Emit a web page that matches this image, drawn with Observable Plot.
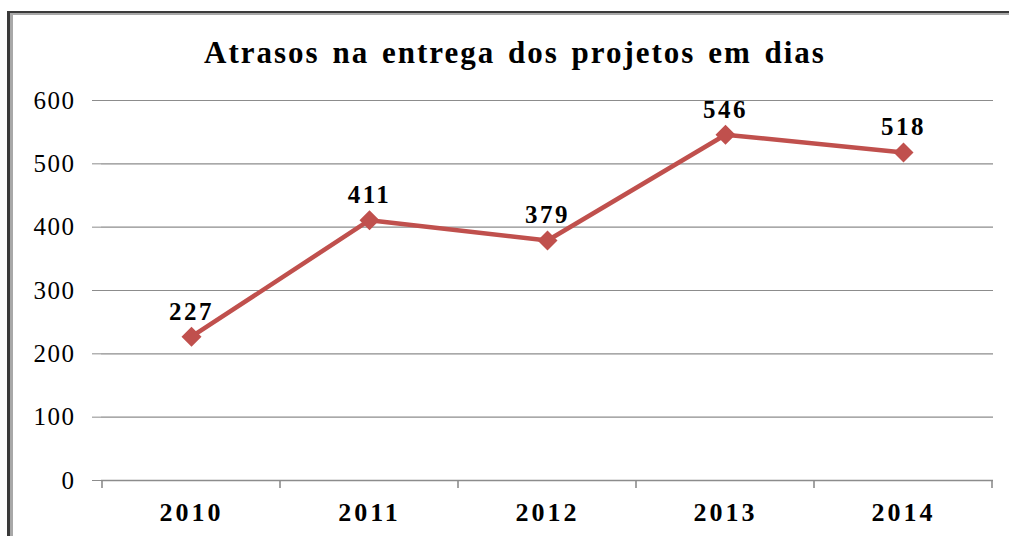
<!DOCTYPE html>
<html>
<head>
<meta charset="utf-8">
<script src="https://cdn.jsdelivr.net/npm/d3@7"></script>
<script src="https://cdn.jsdelivr.net/npm/@observablehq/plot@0.6"></script>
<style>
  html, body { margin: 0; padding: 0; background: #fff; width: 1009px; height: 536px; overflow: hidden; }
  #wrap { position: relative; width: 1009px; height: 536px; }
  #frame { position: absolute; left: 7px; top: 11px; right: -10px; bottom: -10px;
           border-left: 3px solid #3a3a3a; border-top: 2px solid #3a3a3a;
           box-shadow: inset 3px 2px 0 #a8a8a8; }
  #title { position: absolute; left: 0; width: 1030px; top: 35px; text-align: center;
           font-family: "Liberation Serif", "Times New Roman", serif; font-weight: bold;
           font-size: 31px; letter-spacing: 2px; word-spacing: 3px; color: #000; }
  #chart { position: absolute; left: 0; top: 0; }
  #chart svg text { font-family: "Liberation Serif", "Times New Roman", serif; }
</style>
</head>
<body>
<div id="wrap">
  <div id="frame"></div>
  <div id="chart"></div>
  <div id="title">Atrasos na entrega dos projetos em dias</div>
</div>
<script>
const years = ["2010", "2011", "2012", "2013", "2014"];
const delays = [227, 411, 379, 546, 518];
const yTicks = [0, 100, 200, 300, 400, 500, 600];

const data = years.map((y, i) => ({year: y, value: delays[i]}));
const red = "#C0504D";
const serif = "Liberation Serif, Times New Roman, serif";

const plot = Plot.plot({
  width: 1009,
  height: 536,
  marginLeft: 101,
  marginRight: 16,
  marginTop: 100,
  marginBottom: 56,
  style: { fontFamily: serif, background: "transparent", overflow: "visible" },
  x: { type: "band", domain: years, padding: 0, align: 0.5, label: null },
  y: { domain: [0, 600], label: null },
  marks: [
    Plot.gridY(yTicks, { stroke: "#8c8c8c", strokeOpacity: 1, strokeWidth: 1.2 }),
    Plot.ruleY([0], { stroke: "#8c8c8c", strokeWidth: 1.6 }),
    Plot.axisY(yTicks, { tickSize: 9, stroke: "#8c8c8c", tickPadding: 17, fontSize: 25, fontFamily: serif, fill: "#000" }),
    Plot.ruleX([0], { stroke: "#8c8c8c", strokeWidth: 1.6 }),
    Plot.axisX({ tickSize: 0, tickPadding: 22, fontSize: 26, fontWeight: "bold", fontFamily: serif, fill: "#000" }),
    Plot.lineY(data, { x: "year", y: "value", stroke: red, strokeWidth: 4.5 }),
    Plot.dot(data, { x: "year", y: "value", symbol: "square", r: 8, fill: red, rotate: 45 }),
    Plot.text(data, { x: "year", y: "value", text: d => String(d.value), dy: -25, fontSize: 25, fontWeight: "bold", fontFamily: serif, fill: "#000" })
  ]
});

document.getElementById("chart").appendChild(plot);
const svg = d3.select(plot);
svg.selectAll('g[aria-label="y-axis tick label"] text').style("letter-spacing", "1.5px");
svg.selectAll('g[aria-label="x-axis tick label"] text').style("letter-spacing", "3px");
svg.selectAll('g[aria-label="text"] text').style("letter-spacing", "2.5px");

// category separator ticks on the x axis (band edges)
const xs = plot.scale("x");
const ys = plot.scale("y");
const edges = years.map(y => xs.apply(y)).concat([xs.apply(years[years.length - 1]) + xs.bandwidth]);
svg.append("g").selectAll("line").data(edges).join("line")
  .attr("x1", d => d).attr("x2", d => d)
  .attr("y1", ys.apply(0)).attr("y2", ys.apply(0) + 8)
  .attr("stroke", "#8c8c8c").attr("stroke-width", 1.6);
</script>
</body>
</html>
